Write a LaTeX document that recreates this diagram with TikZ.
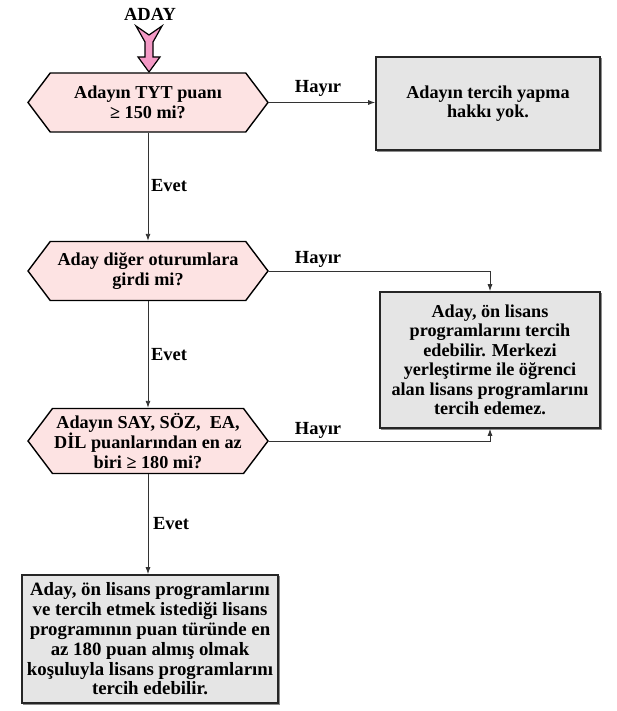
\documentclass[tikz,border=0pt]{standalone}
\usepackage{fontspec}
\setmainfont{Liberation Serif}
\usetikzlibrary{arrows.meta,shapes.symbols,positioning}
\definecolor{hexpink}{HTML}{FDE3E3}
\definecolor{boxgray}{HTML}{E5E5E5}
\definecolor{arrpink}{HTML}{F49AC6}
\definecolor{linegray}{HTML}{333333}
\tikzset{
  soru/.style={signal,signal to=west and east,signal pointer angle=106,draw=black,line width=1.4pt,
    fill=hexpink,minimum width=240pt,minimum height=59pt,inner sep=1pt,align=center,
    font=\fontsize{18.2}{20}\selectfont\bfseries},
  sonuc/.style={rectangle,draw=black!85,line width=1.6pt,fill=boxgray,align=center,inner sep=1pt,
    font=\fontsize{18.2}{19.5}\selectfont\bfseries,
    preaction={draw=black!45,line width=1pt,transform canvas={shift={(1.5pt,-1.5pt)}}}},
  ok/.style={draw=linegray,line width=0.9pt,-{Latex[length=7pt,width=5pt]}},
  etiket/.style={font=\fontsize{18.5}{19}\selectfont\bfseries,inner sep=0pt}
}
\begin{document}
\begin{tikzpicture}[x=1pt,y=-1pt]
\useasboundingbox (0,0) rectangle (616,711);
% baslangic
\node[etiket] (aday) at (150,14) {ADAY};
\draw[line width=1.2pt,fill=arrpink,line join=miter] (136,26) -- (149,35) -- (162,26) -- (153,42)
  -- (153,57) -- (160,57) -- (149,72) -- (138,57) -- (145,57) -- (145,42) -- cycle;
% kararlar
\node[soru] (tyt) at (148,102.5) {Adayın TYT puanı\\≥ 150 mi?};
\node[soru] (oturum) at (148,271) {Aday diğer oturumlara\\girdi mi?};
\node[soru,minimum height=65pt] (puan) at (148,441) {Adayın SAY, SÖZ,\ \ EA,\\DİL puanlarından en az\\biri ≥ 180 mi?};
% sonuclar
\node[sonuc,minimum width=224pt,minimum height=93pt] (yok) at (488,103.5) {Adayın tercih yapma\\hakkı yok.};
\node[sonuc,minimum width=220pt,minimum height=136pt] (onlisans) at (490,360) {Aday, ön lisans\\programlarını tercih\\edebilir. Merkezi\\yerleştirme ile öğrenci\\alan lisans programlarını\\tercih edemez.};
\node[sonuc,minimum width=256pt,minimum height=128pt,font=\fontsize{18.8}{19.8}\selectfont\bfseries] (lisans) at (150,639) {Aday, ön lisans programlarını\\ve tercih etmek istediği lisans\\programının puan türünde en\\az 180 puan almış olmak\\koşuluyla lisans programlarını\\tercih edebilir.};
% baglantilar
\draw[ok] (tyt.east) -- (tyt.east -| yok.west);
\draw[ok] (tyt.south) -- (oturum.north);
\draw[ok] (oturum.east) -| (onlisans.north);
\draw[ok] (oturum.south) -- (puan.north);
\draw[ok] (puan.east) -| (onlisans.south);
\draw[ok] (puan.south) -- (puan.south |- lisans.north);
% etiketler
\node[etiket] (h1) at (318,88) {Hayır};
\node[etiket] (e1) at (169,186) {Evet};
\node[etiket] (h2) at (318,259) {Hayır};
\node[etiket] (e2) at (169,355) {Evet};
\node[etiket] (h3) at (318,430) {Hayır};
\node[etiket] (e3) at (171,524) {Evet};
\end{tikzpicture}
\end{document}
